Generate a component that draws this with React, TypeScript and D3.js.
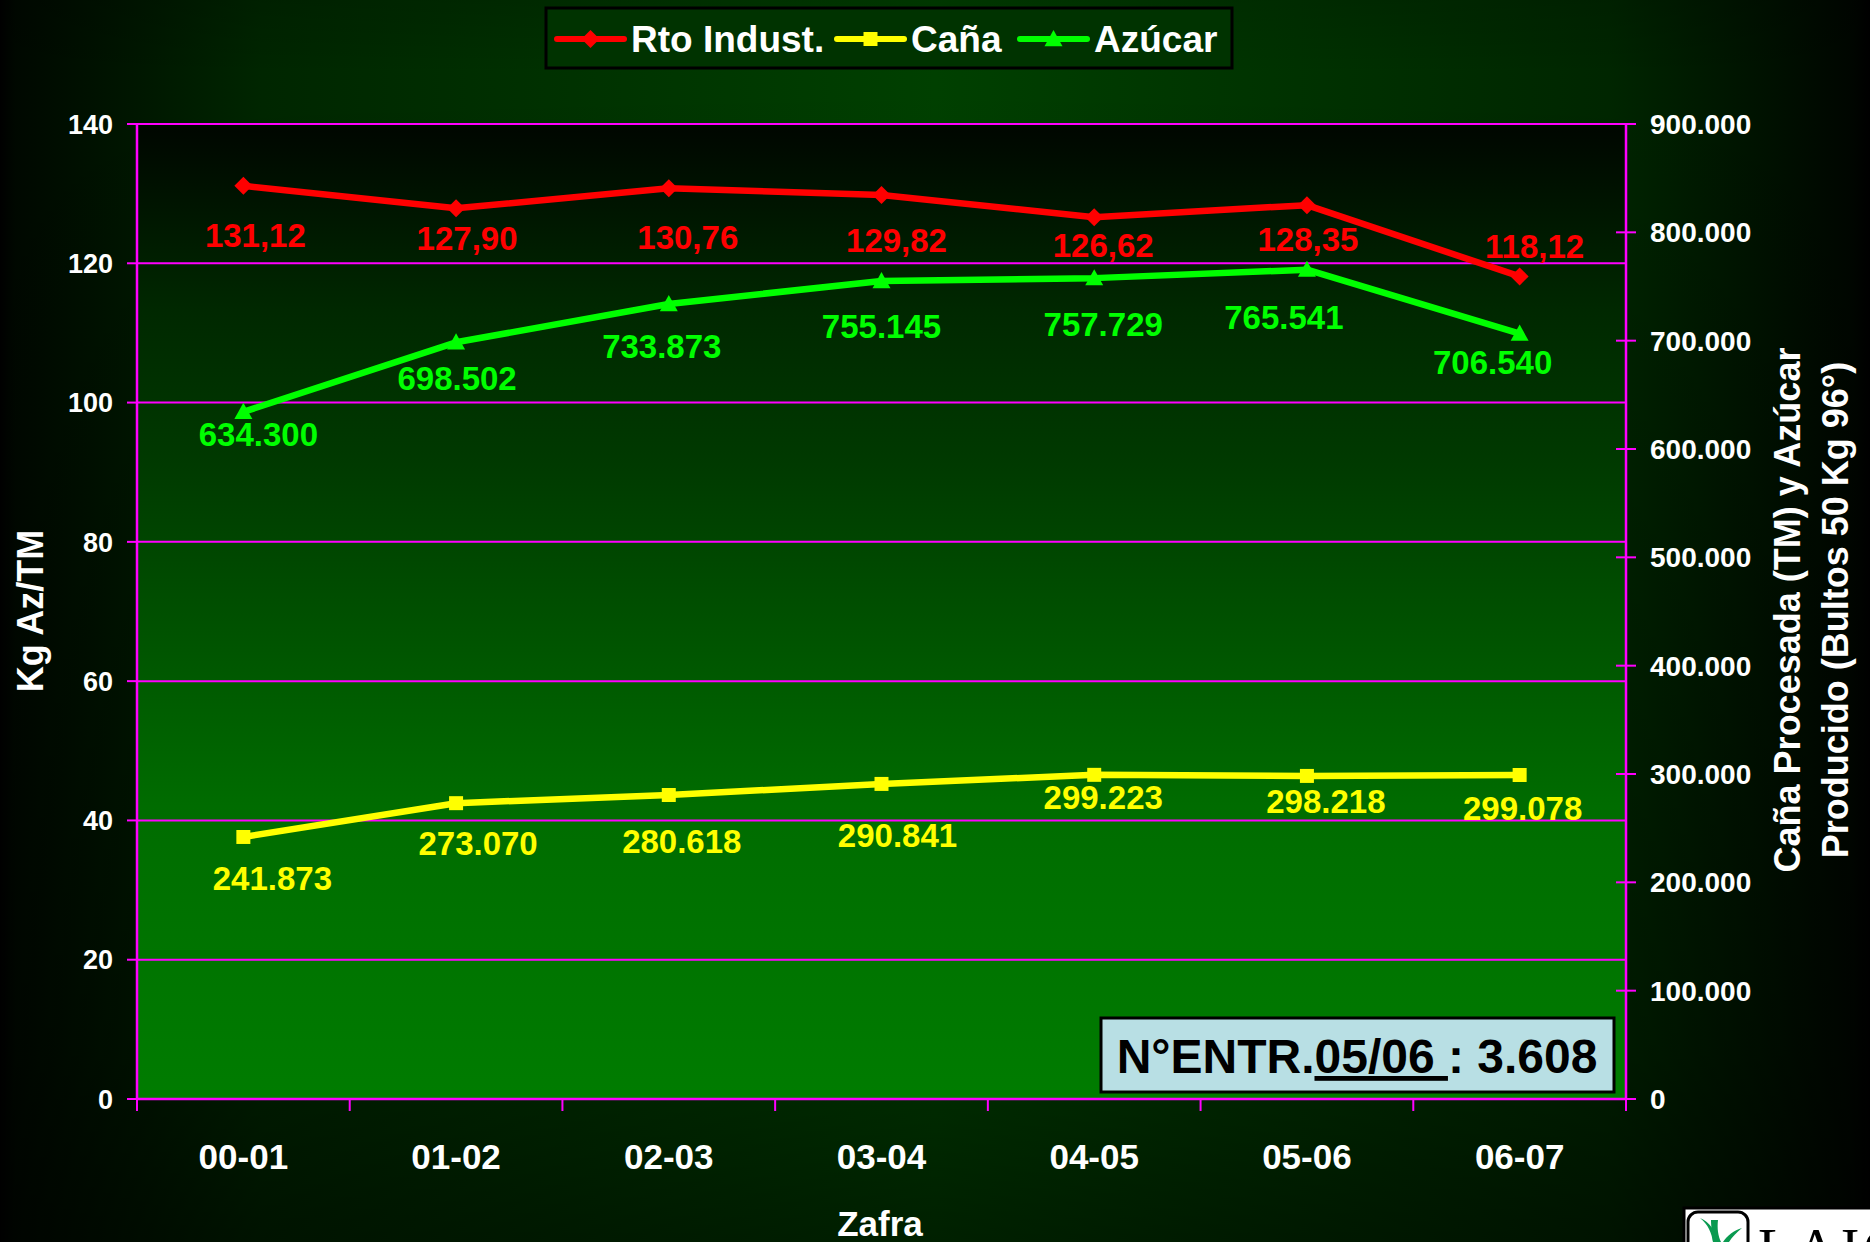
import React from 'react';
import * as d3 from 'd3';

const zafras = ['00-01', '01-02', '02-03', '03-04', '04-05', '05-06', '06-07'];
const rtoIndust = [131.12, 127.9, 130.76, 129.82, 126.62, 128.35, 118.12];
const cana = [241873, 273070, 280618, 290841, 299223, 298218, 299078];
const azucar = [634300, 698502, 733873, 755145, 757729, 765541, 706540];
const leftTicks = [0, 20, 40, 60, 80, 100, 120, 140];
const rightTicks = [0, 100000, 200000, 300000, 400000, 500000, 600000, 700000, 800000, 900000];

// label nudges [dx of centre, dy of baseline] from each point, as placed in the original
const rtoLabelNudge = [[12, 61], [11, 42], [19, 61], [15, 57], [9, 40], [1, 46], [15, -18]];
const canaLabelNudge = [[29, 53], [22, 52], [13, 58], [16, 63], [9, 34], [19, 37], [3, 45]];
const azucarLabelNudge = [[15, 34], [1, 48], [-7, 54], [0, 57], [9, 58], [-23, 59], [-27, 40]];

const W = 1870;
const H = 1242;
const plot = { left: 137, right: 1626, top: 124, bottom: 1099 };
const FONT = '"Liberation Sans", Arial, sans-serif';
const MAGENTA = '#ff00ff';
const RED = '#ff0000';
const YELLOW = '#ffff00';
const GREEN = '#00ff00';

const es = d3.formatLocale({ decimal: ',', thousands: '.', grouping: [3], currency: ['', ''] });
const fmtThousands = es.format(',d');
const fmtDec = es.format(',.2f');

const diamond = (s: number) => `M0,${-s}L${s},0L0,${s}L${-s},0Z`;
const square = (s: number) => `M${-s},${-s}H${s}V${s}H${-s}Z`;
const triangle = (s: number) => `M0,${-s}L${s},${s * 0.8}L${-s},${s * 0.8}Z`;

const App = () => {
    const x = d3.scaleBand<string>().domain(zafras).range([plot.left, plot.right]).padding(0);
    const cx = (c: string) => (x(c) as number) + x.bandwidth() / 2;
    const yL = d3.scaleLinear().domain([0, 140]).range([plot.bottom, plot.top]);
    const yR = d3.scaleLinear().domain([0, 900000]).range([plot.bottom, plot.top]);

    const line = d3.line<[number, number]>().x(d => d[0]).y(d => d[1]);

    const series = [
        { name: 'Rto Indust.', values: rtoIndust, y: yL, color: RED, marker: diamond(9), fmt: fmtDec, nudge: rtoLabelNudge },
        { name: 'Caña', values: cana, y: yR, color: YELLOW, marker: square(7), fmt: fmtThousands, nudge: canaLabelNudge },
        { name: 'Azúcar', values: azucar, y: yR, color: GREEN, marker: triangle(9), fmt: fmtThousands, nudge: azucarLabelNudge },
    ];

    const bandEdges = zafras.map(c => x(c) as number).concat([plot.right]);

    const legendItems = [
        { s: series[0], lx: 557, tx: 631 },
        { s: series[1], lx: 837, tx: 911 },
        { s: series[2], lx: 1020, tx: 1094 },
    ];

    return (
        <div style={{ position: 'absolute', left: 0, top: 0, width: W, height: H, overflow: 'hidden' }}>
            <svg width={W} height={H} style={{ display: 'block' }} fontFamily={FONT}>
                <defs>
                    <linearGradient id="pageH" x1="0" x2="1" y1="0" y2="0">
                        <stop offset="0" stopColor="#000000" />
                        <stop offset="0.008" stopColor="#000800" />
                        <stop offset="0.14" stopColor="#002600" />
                        <stop offset="0.5" stopColor="#004000" />
                        <stop offset="0.86" stopColor="#002600" />
                        <stop offset="0.99" stopColor="#000600" />
                        <stop offset="1" stopColor="#000000" />
                    </linearGradient>
                    <linearGradient id="pageV" x1="0" x2="0" y1="0" y2="1">
                        <stop offset="0" stopColor="#000" stopOpacity="0.15" />
                        <stop offset="0.06" stopColor="#000" stopOpacity="0" />
                        <stop offset="0.85" stopColor="#000" stopOpacity="0.3" />
                        <stop offset="1" stopColor="#000" stopOpacity="0.5" />
                    </linearGradient>
                    <linearGradient id="plotBg" x1="0" x2="0" y1="0" y2="1">
                        <stop offset="0" stopColor="#000600" />
                        <stop offset="0.19" stopColor="#002800" />
                        <stop offset="0.35" stopColor="#003a00" />
                        <stop offset="0.7" stopColor="#006c00" />
                        <stop offset="1" stopColor="#007c00" />
                    </linearGradient>
                </defs>

                <rect x={0} y={0} width={W} height={H} fill="url(#pageH)" />
                <rect x={0} y={0} width={W} height={H} fill="url(#pageV)" />

                {/* plot area */}
                <rect x={plot.left} y={plot.top} width={plot.right - plot.left} height={plot.bottom - plot.top} fill="url(#plotBg)" />

                {/* gridlines */}
                {leftTicks.map(t => (
                    <line key={'g' + t} x1={plot.left} x2={plot.right} y1={yL(t)} y2={yL(t)} stroke={MAGENTA} strokeWidth={2} />
                ))}

                {/* axes */}
                <line x1={plot.left} x2={plot.left} y1={plot.top} y2={plot.bottom} stroke={MAGENTA} strokeWidth={2.5} />
                <line x1={plot.right} x2={plot.right} y1={plot.top} y2={plot.bottom} stroke={MAGENTA} strokeWidth={2.5} />
                <line x1={plot.left} x2={plot.right} y1={plot.bottom} y2={plot.bottom} stroke={MAGENTA} strokeWidth={2.5} />

                {leftTicks.map(t => (
                    <g key={'l' + t}>
                        <line x1={plot.left - 10} x2={plot.left} y1={yL(t)} y2={yL(t)} stroke={MAGENTA} strokeWidth={2} />
                        <text x={113} y={yL(t)} dy="0.36em" textAnchor="end" fontSize={27} fontWeight="bold" fill="#fff">{t}</text>
                    </g>
                ))}
                {rightTicks.map(t => (
                    <g key={'r' + t}>
                        <line x1={plot.right - 10} x2={plot.right + 10} y1={yR(t)} y2={yR(t)} stroke={MAGENTA} strokeWidth={2} />
                        <text x={1650} y={yR(t)} dy="0.36em" textAnchor="start" fontSize={28} fontWeight="bold" fill="#fff">{fmtThousands(t)}</text>
                    </g>
                ))}
                {bandEdges.map((e, i) => (
                    <line key={'b' + i} x1={e} x2={e} y1={plot.bottom} y2={plot.bottom + 12} stroke={MAGENTA} strokeWidth={2} />
                ))}
                {zafras.map(c => (
                    <text key={'x' + c} x={cx(c)} y={1169} textAnchor="middle" fontSize={35} fontWeight="bold" fill="#fff">{c}</text>
                ))}

                {/* axis titles */}
                <text x={880} y={1236} textAnchor="middle" fontSize={35} fontWeight="bold" fill="#fff">Zafra</text>
                <text transform="translate(43,611) rotate(-90)" textAnchor="middle" fontSize={36} fontWeight="bold" fill="#fff">Kg Az/TM</text>
                <text transform="translate(1800,610) rotate(-90)" textAnchor="middle" fontSize={36} fontWeight="bold" fill="#fff">Caña Procesada (TM) y Azúcar</text>
                <text transform="translate(1848,610) rotate(-90)" textAnchor="middle" fontSize={36} fontWeight="bold" fill="#fff">Producido (Bultos 50 Kg 96°)</text>

                {/* series */}
                {series.map(s => {
                    const pts = s.values.map((v, i) => [cx(zafras[i]), s.y(v)] as [number, number]);
                    return (
                        <g key={s.name}>
                            <path d={line(pts) as string} fill="none" stroke={s.color} strokeWidth={6.5} strokeLinejoin="round" />
                            {pts.map((p, i) => (
                                <path key={i} d={s.marker} transform={`translate(${p[0]},${p[1]})`} fill={s.color} />
                            ))}
                            {pts.map((p, i) => (
                                <text key={'t' + i} x={p[0] + s.nudge[i][0]} y={p[1] + s.nudge[i][1]} textAnchor="middle"
                                    fontSize={33} fontWeight="bold" fill={s.color}>{s.fmt(s.values[i])}</text>
                            ))}
                        </g>
                    );
                })}

                {/* legend */}
                <rect x={546} y={8} width={686} height={60} fill="#003300" stroke="#000" strokeWidth={3} />
                {legendItems.map(({ s, lx, tx }) => (
                    <g key={'lg' + s.name}>
                        <line x1={lx} x2={lx + 67} y1={39} y2={39} stroke={s.color} strokeWidth={6} strokeLinecap="round" />
                        <path d={s.marker} transform={`translate(${lx + 33.5},39)`} fill={s.color} />
                        <text x={tx} y={52} fontSize={37} fontWeight="bold" fill="#fff">{s.name}</text>
                    </g>
                ))}

                {/* entries box */}
                <rect x={1101} y={1018} width={513} height={74} fill="#b8dfe4" stroke="#000" strokeWidth={3} />
                <text x={1357} y={1073} textAnchor="middle" fontSize={48} fontWeight="bold" fill="#000">
                    N°ENTR.<tspan textDecoration="underline" style={{ textDecoration: 'underline' }}>05/06 </tspan>: 3.608
                </text>

                {/* logo corner */}
                <g>
                    <rect x={1684} y={1208} width={200} height={60} fill="#fff" stroke="#000" strokeWidth={3} />
                    <rect x={1688} y={1212} width={60} height={50} rx={10} fill="#fff" stroke="#000" strokeWidth={3} />
                    <path d="M1713,1242 C1712,1232 1711,1226 1711,1220 L1718,1220 C1717,1228 1718,1236 1721,1242 Z" fill="#0a9a50" />
                    <path d="M1700,1218 C1708,1224 1712,1234 1713,1242 L1718,1242 C1716,1232 1710,1222 1700,1218 Z" fill="#0a9a50" />
                    <path d="M1742,1228 C1734,1230 1727,1236 1723,1242 L1729,1242 C1732,1237 1737,1232 1742,1228 Z" fill="#0a9a50" />
                    <text x={1758} y={1268} fontFamily='"Liberation Serif", "Times New Roman", serif' fontSize={56} letterSpacing={4} fill="#000">LAICA</text>
                </g>
            </svg>
        </div>
    );
};

export default App;
